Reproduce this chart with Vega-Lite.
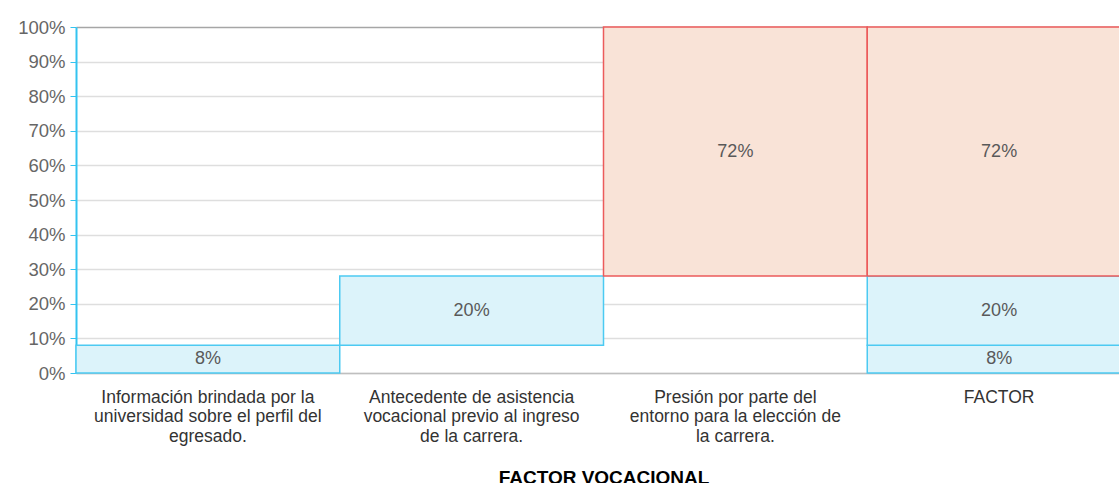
{
  "$schema": "https://vega.github.io/schema/vega-lite/v6.json",
  "autosize": {"type": "none"},
  "padding": {"left": 76, "top": 27, "right": 0, "bottom": 110},
  "width": 1055,
  "height": 346,
  "background": "white",
  "config": {
    "font": "Liberation Sans",
    "view": {"stroke": null},
    "axisY": {"labelOverlap": false}
  },
  "data": {
    "values": [
      {"categoria": "Información brindada por la|universidad sobre el perfil del|egresado.", "inicio": 0, "fin": 8, "valor": "8%", "tipo": "a"},
      {"categoria": "Antecedente de asistencia|vocacional previo al ingreso|de la carrera.", "inicio": 8, "fin": 28, "valor": "20%", "tipo": "a"},
      {"categoria": "Presión por parte del|entorno para la elección de|la carrera.", "inicio": 28, "fin": 100, "valor": "72%", "tipo": "b"},
      {"categoria": "FACTOR", "inicio": 0, "fin": 8, "valor": "8%", "tipo": "a"},
      {"categoria": "FACTOR", "inicio": 8, "fin": 28, "valor": "20%", "tipo": "a"},
      {"categoria": "FACTOR", "inicio": 28, "fin": 100, "valor": "72%", "tipo": "b"}
    ]
  },
  "encoding": {
    "x": {
      "field": "categoria",
      "type": "nominal",
      "sort": null,
      "scale": {"paddingInner": 0, "paddingOuter": 0},
      "axis": {
        "title": "FACTOR VOCACIONAL",
        "titleFont": "Liberation Sans",
        "titleFontSize": 19,
        "titleFontWeight": "bold",
        "titleColor": "#000000",
        "titlePadding": 24,
        "labelAngle": 0,
        "labelExpr": "split(datum.label, '|')",
        "labelFontSize": 17.5,
        "labelColor": "#333333",
        "labelLineHeight": 19.5,
        "labelPadding": 15,
        "labelLimit": 300,
        "ticks": false,
        "domainColor": "#bfbfbf",
        "domainWidth": 1.5,
        "grid": false
      }
    },
    "y": {
      "field": "inicio",
      "type": "quantitative",
      "scale": {"domain": [0, 100], "nice": false},
      "axis": {
        "title": null,
        "values": [0, 10, 20, 30, 40, 50, 60, 70, 80, 90, 100],
        "labelExpr": "datum.value + '%'",
        "labelFontSize": 18.5,
        "labelOverlap": false,
        "labelColor": "#666666",
        "labelPadding": 5,
        "tickSize": 6,
        "tickColor": "#33c3f0",
        "domainColor": "#33c3f0",
        "domainWidth": 2,
        "gridColor": {"condition": {"test": "datum.value === 100", "value": "#a6a6a6"}, "value": "#dedede"},
        "gridWidth": 1.5
      }
    }
  },
  "layer": [
    {
      "mark": {"type": "bar", "strokeWidth": 1.5},
      "encoding": {
        "y2": {"field": "fin"},
        "fill": {
          "field": "tipo",
          "type": "nominal",
          "scale": {"domain": ["a", "b"], "range": ["#dcf3fa", "#f9e3d7"]},
          "legend": null
        },
        "stroke": {
          "field": "tipo",
          "type": "nominal",
          "scale": {"domain": ["a", "b"], "range": ["#4ccaf2", "#ec5b5b"]},
          "legend": null
        }
      }
    },
    {
      "transform": [{"calculate": "(datum.inicio + datum.fin) / 2", "as": "medio"}],
      "mark": {"type": "text", "fontSize": 18, "color": "#595959"},
      "encoding": {
        "y": {
          "field": "medio",
          "type": "quantitative",
          "axis": {
            "title": null,
            "values": [0, 10, 20, 30, 40, 50, 60, 70, 80, 90, 100],
            "labelExpr": "datum.value + '%'",
            "labelFontSize": 18.5,
            "labelOverlap": false,
            "labelColor": "#666666",
            "labelPadding": 5,
            "tickSize": 6,
            "tickColor": "#33c3f0",
            "domainColor": "#33c3f0",
            "domainWidth": 2,
            "gridColor": {"condition": {"test": "datum.value === 100", "value": "#a6a6a6"}, "value": "#dedede"},
            "gridWidth": 1.5
          }
        },
        "text": {"field": "valor"}
      }
    }
  ]
}
